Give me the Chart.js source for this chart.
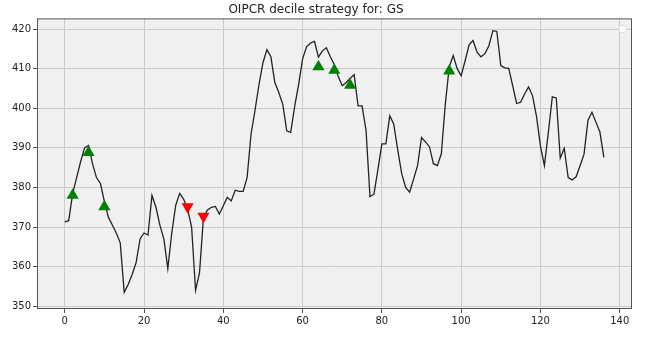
<!DOCTYPE html>
<html>
<head>
    <title>OIPCR decile strategy</title>
    <script src="https://cdn.jsdelivr.net/npm/chart.js@4/dist/chart.umd.min.js"></script>
    <style>
        body { margin: 0; background: #fff; }
        #wrap { width: 666px; height: 340px; }
    </style>
</head>
<body>
<div id="wrap"><canvas id="myChart" width="666" height="340"></canvas></div>
<script>
    // price line, one value per day index
    let prices = [
        371.3, 371.6, 378.5, 382.5, 386.5, 390.0, 390.6, 386.0, 382.5, 381.0,
        376.5, 372.5, 370.5, 368.5, 366.0, 353.5, 355.5, 358.0, 361.0, 367.0,
        368.5, 368.0, 378.0, 375.0, 370.5, 367.0, 359.5, 368.5, 375.5, 378.5,
        377.0, 374.5, 370.0, 354.0, 358.5, 372.5, 374.3, 375.0, 375.2, 373.3,
        375.4, 377.5, 376.6, 379.3, 379.0, 379.0, 382.5, 393.5, 399.5, 406.0,
        411.5, 414.8, 413.0, 406.5, 404.0, 401.0, 394.3, 393.9, 400.5, 406.0,
        412.5, 415.5, 416.5, 416.9, 412.9, 414.5, 415.3, 413.0, 411.0, 408.0,
        405.7, 406.5, 407.5, 408.5, 400.6, 400.6, 394.5, 377.7, 378.3, 384.5,
        391.0, 391.0, 398.1, 396.0, 389.5, 383.5, 380.0, 378.8, 382.1, 385.5,
        392.6, 391.5, 390.3, 386.0, 385.5, 388.5, 401.0, 410.5, 413.3, 410.0,
        408.2, 412.0, 416.0, 417.1, 414.2, 413.0, 413.8, 415.8, 419.6, 419.4,
        410.8, 410.2, 410.1, 405.7, 401.2, 401.5, 403.6, 405.4, 403.2, 398.0,
        390.5, 385.5, 393.9, 402.9, 402.6, 387.4, 389.9, 382.5, 381.9, 382.7,
        385.5, 388.4, 397.0, 399.0, 396.5, 394.0, 387.6
    ];

    // buy / sell signals
    let buyDays = [2, 6, 10, 64, 68, 72, 97];
    let buyValues = [378.0, 388.8, 375.1, 410.5, 409.6, 405.8, 409.4];
    let sellDays = [31, 35];
    let sellValues = [375.1, 372.7];

    let xTicks = [0, 20, 40, 60, 80, 100, 120, 140];
    let yTicks = [350, 360, 370, 380, 390, 400, 410, 420];

    function toPoints(xs, ys) {
        let pts = [];
        xs.forEach((x, i) => {
            pts.push({x: x, y: ys[i]});
        });
        return pts;
    }

    let linePoints = toPoints(prices.map((v, i) => i), prices);

    // plot background, frame and the empty legend box
    let frame = {
        id: 'frame',
        beforeDraw(chart) {
            let ctx = chart.ctx;
            let a = chart.chartArea;
            ctx.save();
            ctx.fillStyle = '#ffffff';
            ctx.fillRect(0, 0, chart.width, chart.height);
            ctx.fillStyle = '#f0f0f0';
            ctx.fillRect(a.left, a.top, a.right - a.left, a.bottom - a.top);
            ctx.restore();
        },
        afterDraw(chart) {
            let ctx = chart.ctx;
            let a = chart.chartArea;
            ctx.save();
            ctx.strokeStyle = '#555555';
            ctx.lineWidth = 1;
            ctx.strokeRect(a.left + 0.5, a.top + 0.5, a.right - a.left - 1, a.bottom - a.top - 1);
            ctx.fillStyle = 'rgba(255,255,255,0.9)';
            ctx.strokeStyle = '#dddddd';
            ctx.beginPath();
            ctx.roundRect(a.right - 13, a.top + 7, 7, 7, 2);
            ctx.fill();
            ctx.stroke();
            ctx.restore();
        }
    };

    Chart.defaults.font.family = "'DejaVu Sans', sans-serif";
    Chart.defaults.color = '#222';

    let ctx = document.getElementById('myChart');
    let myChart = new Chart(ctx, {
        type: 'line',
        data: {
            datasets: [
                {
                    data: toPoints(buyDays, buyValues),
                    showLine: false,
                    pointStyle: 'triangle',
                    pointRadius: 7,
                    backgroundColor: '#008000',
                    borderColor: '#008000',
                    borderWidth: 0
                },
                {
                    data: toPoints(sellDays, sellValues),
                    showLine: false,
                    pointStyle: 'triangle',
                    rotation: 180,
                    pointRadius: 7,
                    backgroundColor: '#ff0000',
                    borderColor: '#ff0000',
                    borderWidth: 0
                },
                {
                    data: linePoints,
                    borderColor: '#222222',
                    borderWidth: 1.3,
                    pointRadius: 0,
                    tension: 0,
                    fill: false
                }
            ]
        },
        options: {
            responsive: false,
            animation: false,
            layout: { padding: { left: 0, right: 34, top: 0, bottom: 0 } },
            plugins: {
                legend: { display: false },
                tooltip: { enabled: false },
                title: {
                    display: true,
                    text: 'OIPCR decile strategy for: GS',
                    font: { size: 12, weight: 'normal' },
                    color: '#222',
                    padding: { top: 3, bottom: 1 }
                }
            },
            scales: {
                x: {
                    type: 'linear',
                    min: -7,
                    max: 143.1,
                    afterBuildTicks: (scale) => { scale.ticks = xTicks.map(v => ({value: v})); },
                    afterFit: (scale) => { scale.height = 31; },
                    ticks: { font: { size: 10 }, padding: 2, maxRotation: 0 },
                    grid: { color: '#cbcbcb', tickColor: '#555', tickLength: 4, lineWidth: 1 },
                    border: { display: false }
                },
                y: {
                    min: 349.3,
                    max: 422.7,
                    afterBuildTicks: (scale) => { scale.ticks = yTicks.map(v => ({value: v})); },
                    afterFit: (scale) => { scale.width = 37; },
                    ticks: { font: { size: 10 }, padding: 2 },
                    grid: { color: '#cbcbcb', tickColor: '#555', tickLength: 4, lineWidth: 1 },
                    border: { display: false }
                }
            }
        },
        plugins: [frame]
    });
</script>
</body>
</html>
